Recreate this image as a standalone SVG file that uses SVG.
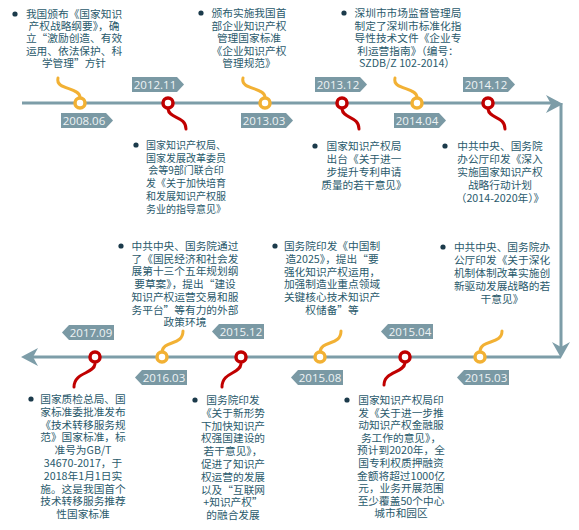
<svg xmlns="http://www.w3.org/2000/svg" width="579" height="530" viewBox="0 0 579 530">
<defs>
<style>
.t{font-family:"Noto Sans CJK SC","Noto Sans",sans-serif;font-size:10.7px;fill:#2A5A6C;text-anchor:middle}
.ts{font-size:10px}
.b{fill:#1B3A4B}
.lbl{fill:#7A99A4}
.lt{font-family:"Open Sans","Noto Sans",sans-serif;font-size:11.5px;fill:#EEF3F4;text-anchor:middle}
.axis{stroke:#7D9DA8;stroke-width:3;fill:none}
.arr{fill:#7D9DA8}
.ty{stroke:#F2B134;stroke-width:3;fill:none;stroke-linecap:round}
.tr{stroke:#C00000;stroke-width:3;fill:none;stroke-linecap:round}
.cy{stroke:#F2B134;stroke-width:3.5;fill:#fff}
.cr{stroke:#C00000;stroke-width:3.5;fill:#fff}
</style>
<path id="pr" d="M0,0 H45 L52,7.5 L45,15 H0 Z"/>
<path id="pl" d="M7,0 H52 V15 H7 L0,7.5 Z"/>
</defs>
<rect width="579" height="530" fill="#fff"/>

<g id="connectors">
<path class="axis" d="M22,103 H558 M561,103 V350 M561,357 H30"/>
<path class="arr" d="M563,104 L546,95 L551,104 L546,113 Z"/>
<path class="arr" d="M561,358 L552,342 L561,347 L570,342 Z"/>
<path class="arr" d="M21,357 L38,348 L33,357 L38,366 Z"/>
<path class="ty" d="M58,78 C55,90 79,87 80,97"/>
<path class="ty" d="M243,78 C240,90 264,87 265,97"/>
<path class="ty" d="M395,78 C392,90 416,87 417,97"/>
<path class="tr" d="M168,109 C169,119 186,116 186,129"/>
<path class="tr" d="M342,109 C343,119 359,116 359,129"/>
<path class="tr" d="M488,109 C489,119 505,116 505,129"/>
<path class="ty" d="M162,352 C163,340 183,346 183,331"/>
<path class="ty" d="M320,352 C321,340 341,346 341,331"/>
<path class="ty" d="M480,351 C481,339 502,345 502,331"/>
<path class="tr" d="M95,364 C94,374 74,372 74,387"/>
<path class="tr" d="M241,364 C240,374 222,372 222,387"/>
<path class="tr" d="M405,363 C404,373 384,371 384,385"/>
</g>

<g id="n2008">
<circle class="cy" cx="80" cy="103" r="5"/>
<use href="#pr" class="lbl" x="61" y="113"/><text class="lt" x="84" y="124.5">2008.06</text>
<circle class="b" cx="15" cy="14" r="2.6"/>
<text class="t"><tspan x="74" y="18">我国颁布《国家知识</tspan><tspan x="74" y="30.2">产权战略纲要》，确</tspan><tspan x="74" y="42.4">立“激励创造、有效</tspan><tspan x="74" y="54.6">运用、依法保护、科</tspan><tspan x="74" y="66.8">学管理”方针</tspan></text>
</g>

<g id="n2012">
<circle class="cr" cx="168" cy="103" r="5"/>
<use href="#pr" class="lbl" x="132" y="77"/><text class="lt" x="155" y="88.5">2012.11</text>
<circle class="b" cx="136" cy="145" r="2.6"/>
<text class="t ts"><tspan x="186" y="149">国家知识产权局、</tspan><tspan x="186" y="161.7">国家发展改革委员</tspan><tspan x="186" y="174.4">会等9部门联合印</tspan><tspan x="186" y="187.1">发《关于加快培育</tspan><tspan x="186" y="199.8">和发展知识产权服</tspan><tspan x="186" y="212.5">务业的指导意见》</tspan></text>
</g>

<g id="n2013a">
<circle class="cy" cx="265" cy="103" r="5"/>
<use href="#pr" class="lbl" x="241" y="113"/><text class="lt" x="264" y="124.5">2013.03</text>
<circle class="b" cx="201" cy="13" r="2.6"/>
<text class="t"><tspan x="249" y="17">颁布实施我国首</tspan><tspan x="249" y="29.5">部企业知识产权</tspan><tspan x="249" y="42">管理国家标准</tspan><tspan x="249" y="54.5">《企业知识产权</tspan><tspan x="249" y="67">管理规范》</tspan></text>
</g>

<g id="n2013b">
<circle class="cr" cx="342" cy="103" r="5"/>
<use href="#pr" class="lbl" x="315" y="77"/><text class="lt" x="338" y="88.5">2013.12</text>
<circle class="b" cx="315" cy="146" r="2.6"/>
<text class="t"><tspan x="364" y="150">国家知识产权局</tspan><tspan x="364" y="163">出台《关于进一</tspan><tspan x="364" y="176">步提升专利申请</tspan><tspan x="364" y="189">质量的若干意见》</tspan></text>
</g>

<g id="n2014a">
<circle class="cy" cx="417" cy="103" r="5"/>
<use href="#pr" class="lbl" x="394" y="113"/><text class="lt" x="417" y="124.5">2014.04</text>
<circle class="b" cx="344" cy="13" r="2.6"/>
<text class="t"><tspan x="408" y="17">深圳市市场监督管理局</tspan><tspan x="408" y="29.5">制定了深圳市标准化指</tspan><tspan x="408" y="42">导性技术文件《企业专</tspan><tspan x="408" y="54.5">利运营指南》（编号：</tspan><tspan x="407" y="67">SZDB/Z 102-2014）</tspan></text>
</g>

<g id="n2014b">
<circle class="cr" cx="488" cy="103" r="5"/>
<use href="#pr" class="lbl" x="463" y="77"/><text class="lt" x="486" y="88.5">2014.12</text>
<circle class="b" cx="445" cy="146" r="2.6"/>
<text class="t"><tspan x="500" y="150">中共中央、国务院</tspan><tspan x="500" y="163">办公厅印发《深入</tspan><tspan x="500" y="176">实施国家知识产权</tspan><tspan x="500" y="189">战略行动计划</tspan><tspan x="500" y="202">（2014-2020年）》</tspan></text>
</g>

<g id="n2015a">
<circle class="cy" cx="480" cy="357" r="5"/>
<use href="#pl" class="lbl" x="457" y="370"/><text class="lt" x="486" y="381.5">2015.03</text>
<circle class="b" cx="443" cy="247" r="2.6"/>
<text class="t"><tspan x="502" y="251">中共中央、国务院办</tspan><tspan x="502" y="264">公厅印发《关于深化</tspan><tspan x="502" y="277">机制体制改革实施创</tspan><tspan x="502" y="290">新驱动发展战略的若</tspan><tspan x="502" y="303">干意见》</tspan></text>
</g>

<g id="n2015b">
<circle class="cr" cx="405" cy="357" r="5"/>
<use href="#pl" class="lbl" x="381" y="324"/><text class="lt" x="410" y="335.5">2015.04</text>
<circle class="b" cx="347" cy="400" r="2.6"/>
<text class="t"><tspan x="401" y="404">国家知识产权局印</tspan><tspan x="401" y="416.6">发《关于进一步推</tspan><tspan x="401" y="429.2">动知识产权金融服</tspan><tspan x="401" y="441.8">务工作的意见》，</tspan><tspan x="401" y="454.4">预计到2020年，全</tspan><tspan x="401" y="467">国专利权质押融资</tspan><tspan x="401" y="479.6">金额将超过1000亿</tspan><tspan x="401" y="492.2">元，业务开展范围</tspan><tspan x="401" y="504.8">至少覆盖50个中心</tspan><tspan x="401" y="517.4">城市和园区</tspan></text>
</g>

<g id="n2015c">
<circle class="cy" cx="320" cy="357" r="5"/>
<use href="#pl" class="lbl" x="291" y="370"/><text class="lt" x="320" y="381.5">2015.08</text>
<circle class="b" cx="275" cy="246" r="2.6"/>
<text class="t"><tspan x="332" y="250">国务院印发《中国制</tspan><tspan x="332" y="262.8">造2025》，提出“要</tspan><tspan x="332" y="275.6">强化知识产权运用，</tspan><tspan x="332" y="288.4">加强制造业重点领域</tspan><tspan x="332" y="301.2">关键核心技术知识产</tspan><tspan x="332" y="314">权储备”等</tspan></text>
</g>

<g id="n2015d">
<circle class="cr" cx="241" cy="357" r="5"/>
<use href="#pl" class="lbl" x="212" y="324"/><text class="lt" x="241" y="335.5">2015.12</text>
<circle class="b" cx="195" cy="400" r="2.6"/>
<text class="t"><tspan x="233" y="404">国务院印发</tspan><tspan x="233" y="416.8">《关于新形势</tspan><tspan x="233" y="429.6">下加快知识产</tspan><tspan x="233" y="442.4">权强国建设的</tspan><tspan x="233" y="455.2">若干意见》，</tspan><tspan x="233" y="468">促进了知识产</tspan><tspan x="233" y="480.8">权运营的发展</tspan><tspan x="233" y="493.6">以及“互联网</tspan><tspan x="233" y="506.4">+知识产权”</tspan><tspan x="233" y="519.2">的融合发展</tspan></text>
</g>

<g id="n2016">
<circle class="cy" cx="162" cy="357" r="5"/>
<use href="#pl" class="lbl" x="135" y="370"/><text class="lt" x="164" y="381.5">2016.03</text>
<circle class="b" cx="121" cy="246" r="2.6"/>
<text class="t"><tspan x="185" y="250">中共中央、国务院通过</tspan><tspan x="185" y="262.7">了《国民经济和社会发</tspan><tspan x="185" y="275.4">展第十三个五年规划纲</tspan><tspan x="185" y="288.1">要草案》，提出“建设</tspan><tspan x="185" y="300.8">知识产权运营交易和服</tspan><tspan x="185" y="313.5">务平台”等有力的外部</tspan><tspan x="185" y="326.2">政策环境</tspan></text>
</g>

<g id="n2017">
<circle class="cr" cx="95" cy="357" r="5"/>
<use href="#pl" class="lbl" x="62" y="325"/><text class="lt" x="91" y="336.5">2017.09</text>
<circle class="b" cx="31" cy="399" r="2.6"/>
<text class="t"><tspan x="83" y="403">国家质检总局、国</tspan><tspan x="83" y="415.8">家标准委批准发布</tspan><tspan x="83" y="428.6">《技术转移服务规</tspan><tspan x="83" y="441.4">范》国家标准，标</tspan><tspan x="83" y="454.2">准号为GB/T</tspan><tspan x="83" y="467">34670-2017，于</tspan><tspan x="83" y="479.8">2018年1月1日实</tspan><tspan x="83" y="492.6">施。这是我国首个</tspan><tspan x="83" y="505.4">技术转移服务推荐</tspan><tspan x="83" y="518.2">性国家标准</tspan></text>
</g>
</svg>
